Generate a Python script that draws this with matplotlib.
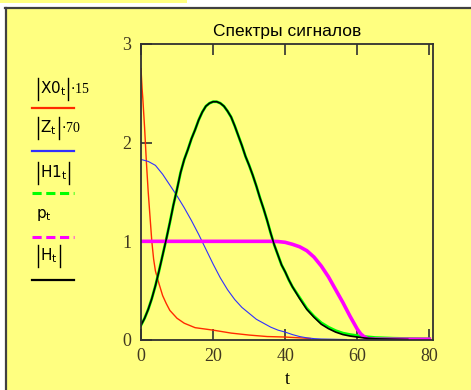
import matplotlib
matplotlib.use("Agg")
import matplotlib.pyplot as plt
from matplotlib.patches import Rectangle

# |X0_t|*15  (red)
t_x0 = [0, 0.3, 0.5, 1, 1.5, 2, 2.5, 3, 3.5, 4, 5, 6, 7, 8, 9, 10, 12, 15, 20, 25, 30, 35, 40, 45, 47]
v_x0 = [2.75, 2.55, 2.45, 2.15, 1.80, 1.50, 1.25, 1.00, 0.82, 0.70, 0.57, 0.45, 0.37, 0.30, 0.26, 0.22,
        0.17, 0.125, 0.10, 0.07, 0.05, 0.035, 0.03, 0.02, 0.015]

# |Z_t|*70  (blue)
t_z = [0, 2, 4, 6, 8, 10, 12, 14, 16, 18, 20, 22, 24, 26, 28, 30, 32, 34, 36, 38, 40, 42, 44, 46, 48, 50, 57]
v_z = [1.83, 1.81, 1.77, 1.68, 1.57, 1.46, 1.34, 1.21, 1.07, 0.92, 0.77, 0.63, 0.51, 0.41, 0.33, 0.27,
       0.21, 0.17, 0.13, 0.10, 0.08, 0.055, 0.035, 0.022, 0.014, 0.01, 0.005]

# |H_t| (black) and |H1_t| (green)
t_h = [0, 1, 2, 3, 4, 5, 6, 7, 8, 9, 10, 11, 12, 13, 14, 15, 16, 17, 18, 19, 20, 21, 22, 23, 24, 25,
       26, 27, 28, 29, 30, 31, 32, 33, 34, 35, 36, 37, 38, 39, 40, 41, 42, 44, 46, 48, 50, 52, 54, 56,
       58, 60, 62, 65, 70, 74]
v_h = [0.15, 0.22, 0.31, 0.42, 0.55, 0.70, 0.86, 1.02, 1.19, 1.37, 1.53, 1.70, 1.83, 1.93, 2.04, 2.13,
       2.23, 2.31, 2.37, 2.40, 2.415, 2.415, 2.40, 2.37, 2.32, 2.26, 2.17, 2.07, 1.97, 1.86, 1.77, 1.67,
       1.56, 1.44, 1.33, 1.21, 1.08, 0.96, 0.86, 0.76, 0.69, 0.61, 0.54, 0.42, 0.31, 0.23, 0.16, 0.115,
       0.08, 0.055, 0.04, 0.03, 0.02, 0.012, 0.008, 0.005]
t_h1 = t_h[:43] + [44, 46, 48, 50, 52, 54, 56, 58, 60, 62, 65, 70, 75, 80]
v_h1 = v_h[:43] + [0.43, 0.32, 0.24, 0.175, 0.13, 0.095, 0.07, 0.055, 0.045, 0.035, 0.025, 0.018,
                   0.014, 0.012]

# p_t (magenta)
t_p = [0, 36, 38, 40, 42, 44, 46, 48, 50, 52, 54, 56, 58, 60, 61, 62, 63, 65, 70, 80]
v_p = [1.0, 1.0, 0.998, 0.99, 0.97, 0.945, 0.905, 0.84, 0.75, 0.64, 0.51, 0.38, 0.24, 0.11, 0.06,
       0.03, 0.012, 0.008, 0.008, 0.008]

x_ticks = [0, 20, 40, 60, 80]
y_ticks = [0, 1, 2, 3]

yellow = "#ffff80"
W, H = 471, 390
fig = plt.figure(figsize=(W / 100, H / 100), dpi=100, facecolor="white")

# background panel + legend drawn in pixel coords
bg = fig.add_axes([0, 0, 1, 1], zorder=0)
bg.set_xlim(0, W)
bg.set_ylim(H, 0)
bg.axis("off")
bg.add_patch(Rectangle((0, 0), 187, 3, facecolor=yellow, edgecolor="none"))
bg.add_patch(Rectangle((5, 7.5), W - 5, H, facecolor=yellow, edgecolor="none"))
bg.plot([5, W], [7.5, 7.5], color="#404040", lw=1.6)
bg.plot([5.5, 5.5], [7.5, H], color="#404040", lw=1.6)

# (body, bars?, suffix, text y, line y, colour, style)
leg = [
    (r"$\mathrm{X0_t}$", True, r"$\cdot$15", 89, 108, "#ff2a00", "-"),
    (r"$\mathrm{Z_t}$", True, r"$\cdot$70", 128, 151, "#3030ff", "-"),
    (r"$\mathrm{H1_t}$", True, "", 173, 193, "#00ff00", "--"),
    (r"$\mathrm{p_t}$", False, "", 215, 237, "#ff00ff", "--"),
    (r"$\mathrm{H_t}$", True, "", 256, 280, "black", "-"),
]
fig.canvas.draw()
r = fig.canvas.get_renderer()
for body, bars, suf, ty, ly, col, ls in leg:
    x0 = 40 if bars else 36
    txt = bg.text(x0, ty, body, fontsize=11, va="center", ha="left",
                  math_fontfamily="custom")
    bb = txt.get_window_extent(renderer=r)
    xr = x0 + bb.width + 2
    if bars:
        bg.plot([37.5, 37.5], [ty - 11, ty + 11], color="black", lw=1.0)
        bg.plot([xr, xr], [ty - 11, ty + 11], color="black", lw=1.0)
    if suf:
        bg.text(xr + 2, ty, suf, fontsize=10, family="Liberation Serif", va="center", ha="left")
    bg.plot([32, 74], [ly, ly], color=col, ls=ls, lw=1.6 if ls == "-" else 2.2,
            dashes=(3, 1.5) if ls == "--" else (None, None))

ax = fig.add_axes([141 / W, 50 / H, 292 / W, 296 / H], zorder=1)
ax.set_facecolor("none")
ax.plot(t_x0, v_x0, color="#ff2a00", lw=1.0)
ax.plot(t_z, v_z, color="#3030ff", lw=0.8)
ax.plot(t_h1, v_h1, color="#00ff00", lw=2.0)
ax.plot(t_p, v_p, color="#ff00ff", lw=2.6)
ax.plot(t_h, v_h, color="black", lw=1.2)

ax.set_xlim(0, 81)
ax.set_ylim(0, 3)
ax.set_xticks(x_ticks)
ax.set_yticks(y_ticks)
for s in ax.spines.values():
    s.set_color("#303030")
    s.set_linewidth(1.3)
ax.tick_params(axis="x", direction="in", length=8, width=1.2, top=True, pad=6,
               labelsize=13, colors="#303030")
ax.tick_params(axis="y", direction="in", length=8, width=1.2, pad=7, labelsize=13, colors="#303030")
for lb in ax.get_xticklabels() + ax.get_yticklabels():
    lb.set_family("Liberation Serif")
    lb.set_color("#403820")
ax.set_title("Спектры сигналов", fontsize=12.5, family="Liberation Sans", pad=6)
ax.set_xlabel("t", fontsize=13, family="Liberation Serif", labelpad=4)

plt.rcParams["mathtext.fontset"] = "custom"
fig.savefig("out.png", dpi=100, facecolor="white")
